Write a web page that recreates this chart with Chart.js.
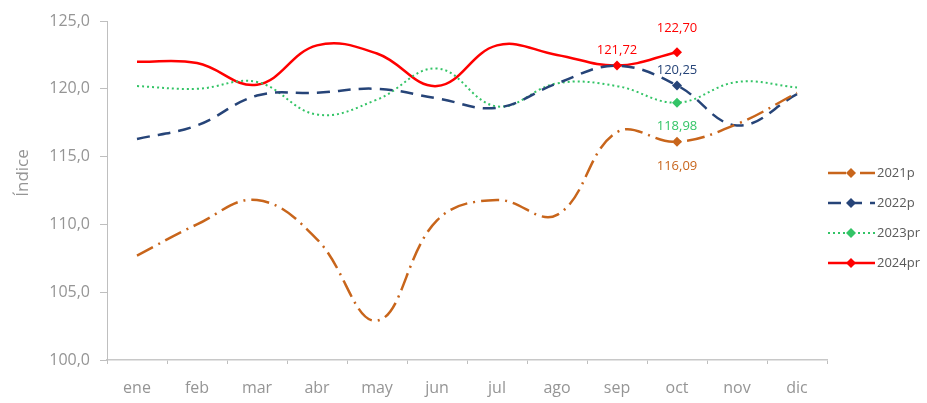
<!DOCTYPE html>
<html>
<head>
<meta charset="utf-8">
<script src="https://cdn.jsdelivr.net/npm/chart.js@4"></script>
<style>
  html, body { margin: 0; padding: 0; background: #fff; }
  #wrap { width: 927px; height: 403px; }
</style>
</head>
<body>
<div id="wrap"><canvas id="indexChart" width="927" height="403"></canvas></div>
<script>
const months = ['ene', 'feb', 'mar', 'abr', 'may', 'jun', 'jul', 'ago', 'sep', 'oct', 'nov', 'dic'];
const seriesNames = ['2021p', '2022p', '2023pr', '2024pr'];
const values2021 = [107.7, 110.0, 111.8, 108.9, 102.9, 110.3, 111.8, 110.7, 116.8, 116.09, 117.4, 119.7];
const values2022 = [116.3, 117.3, 119.5, 119.7, 120.0, 119.3, 118.6, 120.4, 121.7, 120.25, 117.3, 119.6];
const values2023 = [120.2, 120.0, 120.5, 118.1, 119.2, 121.5, 118.7, 120.4, 120.2, 118.98, 120.5, 120.1];
const values2024 = [122.0, 121.9, 120.3, 123.2, 122.6, 120.2, 123.2, 122.5, 121.72, 122.70, null, null];
// which months get a marker + value label
const labelled2021 = [9];
const labelled2022 = [9];
const labelled2023 = [9];
const labelled2024 = [8, 9];
const yTicks = [100, 105, 110, 115, 120, 125];

const FONT = '"Open Sans", "DejaVu Sans", sans-serif';
const GREY = '#959595';

function fmt(v, d) {
  return v.toFixed(d).replace('.', ',');
}

function makeSet(label, data, marked, color, dash, width, labelOffsets) {
  return {
    label: label,
    data: data,
    borderColor: color,
    backgroundColor: color,
    borderWidth: width,
    borderDash: dash,
    tension: 0.4,
    spanGaps: false,
    pointStyle: 'rectRot',
    pointRadius: ctx => marked.includes(ctx.dataIndex) ? 5 : 0,
    pointHoverRadius: 0,
    pointBorderWidth: 0,
    marked: marked,
    labelOffsets: labelOffsets
  };
}

const datasets = [
  makeSet(seriesNames[0], values2021, labelled2021, '#c8651b', [18, 6, 2, 6], 2.5, [24]),
  makeSet(seriesNames[1], values2022, labelled2022, '#264478', [13, 8], 2.5, [-15]),
  makeSet(seriesNames[2], values2023, labelled2023, '#33c466', [2, 3], 2, [24]),
  makeSet(seriesNames[3], values2024, labelled2024, '#ff0000', [], 2.5, [-15, -24])
];

const extras = {
  id: 'extras',
  afterDatasetsDraw(chart) {
    const ctx = chart.ctx;
    ctx.save();
    ctx.font = '13px ' + FONT;
    ctx.textAlign = 'center';
    ctx.textBaseline = 'middle';
    chart.data.datasets.forEach((ds, di) => {
      const meta = chart.getDatasetMeta(di);
      ds.marked.forEach((idx, k) => {
        const pt = meta.data[idx];
        ctx.fillStyle = ds.borderColor;
        ctx.fillText(fmt(ds.data[idx], 2), pt.x, pt.y + ds.labelOffsets[k]);
      });
    });
    ctx.restore();
  },
  afterDraw(chart) {
    const ctx = chart.ctx;
    ctx.save();
    // y axis title
    ctx.translate(23, 173);
    ctx.rotate(-Math.PI / 2);
    ctx.font = '17px ' + FONT;
    ctx.fillStyle = GREY;
    ctx.textAlign = 'center';
    ctx.textBaseline = 'middle';
    ctx.fillText('Índice', 0, 0);
    ctx.restore();

    // legend on the right
    ctx.save();
    chart.data.datasets.forEach((ds, i) => {
      const y = 173 + i * 30;
      ctx.strokeStyle = ds.borderColor;
      ctx.lineWidth = ds.borderWidth;
      ctx.setLineDash(ds.borderDash);
      ctx.beginPath();
      ctx.moveTo(828, y);
      ctx.lineTo(875, y);
      ctx.stroke();
      ctx.setLineDash([]);
      ctx.fillStyle = ds.borderColor;
      ctx.beginPath();
      ctx.moveTo(851, y - 5);
      ctx.lineTo(856, y);
      ctx.lineTo(851, y + 5);
      ctx.lineTo(846, y);
      ctx.closePath();
      ctx.fill();
      ctx.font = '13px ' + FONT;
      ctx.fillStyle = '#595959';
      ctx.textAlign = 'left';
      ctx.textBaseline = 'middle';
      ctx.fillText(ds.label, 877, y);
    });
    ctx.restore();
  }
};

new Chart(document.getElementById('indexChart').getContext('2d'), {
  type: 'line',
  data: { labels: months, datasets: datasets },
  options: {
    responsive: false,
    animation: false,
    layout: { padding: { top: 21, right: 100, left: 0, bottom: 0 } },
    plugins: {
      legend: { display: false },
      tooltip: { enabled: false }
    },
    scales: {
      x: {
        offset: true,
        afterFit: s => { s.height = 43; },
        grid: { display: true, drawOnChartArea: false, offset: true, tickLength: 4, color: '#bfbfbf' },
        border: { color: '#c8c8c8', width: 1.5 },
        ticks: { color: GREY, font: { family: FONT, size: 16 }, padding: 15, maxRotation: 0 }
      },
      y: {
        min: 100,
        max: 125,
        afterFit: s => { s.width = 107; },
        afterBuildTicks: s => { s.ticks = yTicks.map(v => ({ value: v })); },
        grid: { display: true, drawOnChartArea: false, tickLength: 7, color: '#bfbfbf' },
        border: { color: '#bfbfbf', width: 1 },
        ticks: {
          color: GREY,
          font: { family: FONT, size: 16 },
          padding: 10,
          callback: v => fmt(v, 1)
        }
      }
    }
  },
  plugins: [extras]
});
</script>
</body>
</html>
